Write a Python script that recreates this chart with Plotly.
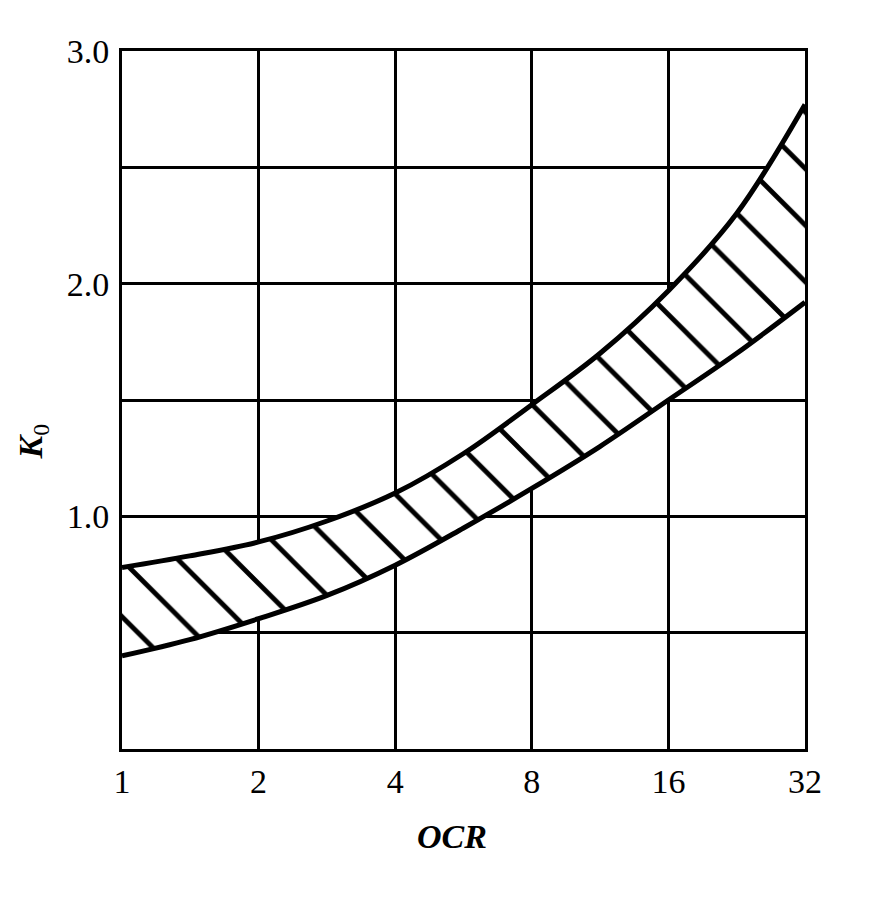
import math
import plotly.graph_objects as go

# OCR 값 (로그 2 눈금), 상한/하한 K0 곡선
ocr = [1, 1.41, 2, 2.83, 4, 5.66, 8, 11.3, 16, 22.6, 32]
k0_upper = [0.78, 0.83, 0.89, 0.98, 1.10, 1.27, 1.48, 1.70, 1.97, 2.30, 2.77]
k0_lower = [0.40, 0.47, 0.56, 0.66, 0.79, 0.95, 1.12, 1.30, 1.50, 1.70, 1.92]

x_ticks = [1, 2, 4, 8, 16, 32]
x_labels = ["1", "2", "4", "8", "16", "32"]
y_ticks = [1.0, 2.0, 3.0]
y_labels = ["1.0", "2.0", "3.0"]
y_minor = [0.5, 1.5, 2.5]

SERIF = "Liberation Serif, Times New Roman, serif"

fig = go.Figure()
fig.add_trace(go.Scatter(
    x=ocr, y=k0_lower, mode="lines",
    line=dict(color="black", width=5, shape="spline"),
    showlegend=False, hoverinfo="skip",
))
fig.add_trace(go.Scatter(
    x=ocr, y=k0_upper, mode="lines",
    line=dict(color="black", width=5, shape="spline"),
    fill="tonexty", fillcolor="white",
    fillpattern=dict(shape="\\", size=40, solidity=0.12, fgopacity=1,
                     fgcolor="black", bgcolor="white"),
    showlegend=False, hoverinfo="skip",
))

fig.update_xaxes(
    type="log", range=[0, math.log10(32)],
    tickvals=x_ticks, ticktext=x_labels,
    showgrid=True, gridcolor="black", gridwidth=3,
    showline=True, linecolor="black", linewidth=3, mirror=True,
    ticks="", ticklabelstandoff=0,
    tickfont=dict(family=SERIF, size=34, color="black"),
    zeroline=False,
)
fig.update_yaxes(
    range=[0, 3.0],
    tickvals=y_ticks, ticktext=y_labels,
    minor=dict(tickvals=y_minor, showgrid=True, gridcolor="black",
               gridwidth=3, ticks=""),
    showgrid=True, gridcolor="black", gridwidth=3,
    showline=True, linecolor="black", linewidth=3, mirror=True,
    ticks="", ticklabelstandoff=3,
    tickfont=dict(family=SERIF, size=34, color="black"),
    zeroline=False,
)

# 축 제목 (원본 위치에 맞춰 주석으로 배치)
fig.add_annotation(
    text="<b><i>K</i></b><sub>0</sub>", xref="paper", yref="paper",
    x=-0.13, y=0.441, xanchor="center", yanchor="middle",
    showarrow=False, textangle=-90,
    font=dict(family=SERIF, size=34, color="black"),
)
fig.add_annotation(
    text="<b><i>OCR</i></b>", xref="paper", yref="paper",
    x=0.483, y=-0.126, xanchor="center", yanchor="middle",
    showarrow=False,
    font=dict(family=SERIF, size=34, color="black"),
)

fig.update_layout(
    width=877, height=898,
    margin=dict(l=114, r=80, t=43, b=157),
    paper_bgcolor="white", plot_bgcolor="white",
)

fig.write_html("out.html")
